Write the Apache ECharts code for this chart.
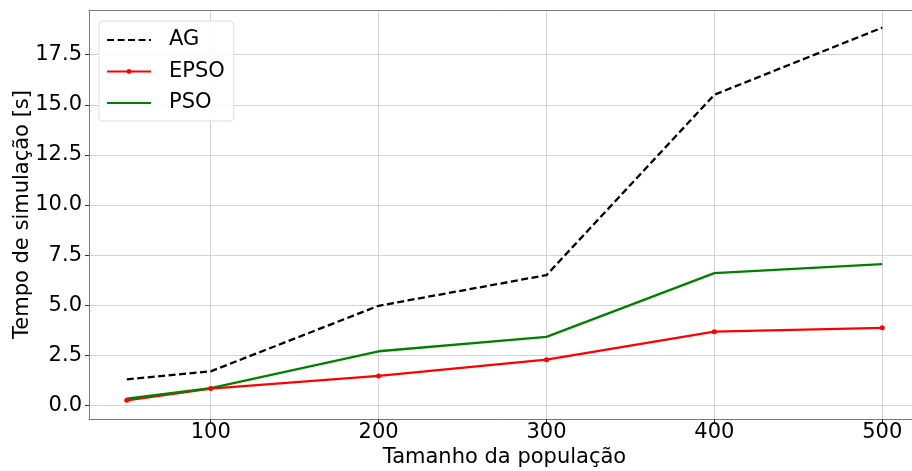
<!DOCTYPE html>
<html>
<head>
<meta charset="utf-8">
<script src="https://cdn.jsdelivr.net/npm/echarts@6/dist/echarts.min.js"></script>
<style>
  html, body { margin: 0; padding: 0; background: #fff; }
  #chart { width: 912px; height: 471px; }
</style>
</head>
<body>
<div id="chart"></div>
<script>
// Population sizes tested
const populacao = [50, 100, 200, 300, 400, 500];
// Simulation time in seconds for each optimiser
const tempoAG = [1.3, 1.7, 4.97, 6.5, 15.5, 18.85];
const tempoEPSO = [0.25, 0.84, 1.47, 2.28, 3.68, 3.87];
const tempoPSO = [0.33, 0.86, 2.7, 3.42, 6.6, 7.05];
// Tick positions
const xTicks = [100, 200, 300, 400, 500];
const yTicks = [0, 2.5, 5, 7.5, 10, 12.5, 15, 17.5];

const pares = vals => populacao.map((p, i) => [p, vals[i]]);
const fonte = 'DejaVu Sans';
const grade = '#d3d3d3';
const borda = '#7a7a7a';
const tam = 21;

const chart = echarts.init(document.getElementById('chart'), null, { renderer: 'canvas' });
chart.setOption({
  animation: false,
  backgroundColor: '#ffffff',
  textStyle: { fontFamily: fonte, color: '#000' },
  grid: {
    left: 89, top: 10, width: 831, height: 409,
    outerBoundsMode: 'none', containLabel: false, show: false
  },
  legend: {
    orient: 'vertical',
    left: 99, top: 21,
    itemWidth: 44, itemHeight: 6, itemGap: 9.5,
    padding: [8, 9, 7, 7],
    backgroundColor: 'rgba(255,255,255,0.85)',
    borderColor: '#dddddd', borderWidth: 1, borderRadius: 4,
    textStyle: { fontFamily: fonte, fontSize: tam, color: '#000', lineHeight: 22, padding: [0, 0, 0, 13] },
    data: [
      { name: 'AG', itemStyle: { color: 'transparent', opacity: 0 } },
      { name: 'EPSO' },
      { name: 'PSO', itemStyle: { color: 'transparent', opacity: 0 } }
    ]
  },
  xAxis: [
    {
      type: 'value',
      min: 27.5, max: 522.5,
      name: 'Tamanho da população',
      nameLocation: 'middle',
      nameGap: 28,
      nameMoveOverlap: false,
      nameTextStyle: { fontFamily: fonte, fontSize: tam, color: '#000', verticalAlign: 'top' },
      axisLine: { show: true, onZero: false, lineStyle: { color: borda, width: 1 } },
      axisTick: { show: true, customValues: xTicks, length: 4, lineStyle: { color: '#333' } },
      axisLabel: { customValues: xTicks, fontFamily: fonte, fontSize: tam, color: '#000', margin: 3 },
      splitLine: { show: true, lineStyle: { color: grade, width: 1 } }
    },
    {
      // top frame line only
      type: 'value', position: 'top',
      min: 27.5, max: 522.5,
      axisLine: { show: true, onZero: false, lineStyle: { color: borda, width: 1 } },
      axisTick: { show: false },
      axisLabel: { show: false },
      splitLine: { show: false }
    }
  ],
  yAxis: {
    type: 'value',
    min: -0.68, max: 19.73,
    name: 'Tempo de simulação [s]',
    nameLocation: 'middle',
    nameGap: 56,
    nameRotate: 90,
    nameMoveOverlap: false,
    nameTextStyle: { fontFamily: fonte, fontSize: tam, color: '#000', verticalAlign: 'bottom' },
    axisLine: { show: true, onZero: false, lineStyle: { color: borda, width: 1 } },
    axisTick: { show: true, customValues: yTicks, length: 4, lineStyle: { color: '#333' } },
    axisLabel: {
      customValues: yTicks, fontFamily: fonte, fontSize: tam, color: '#000', margin: 7,
      formatter: v => v.toFixed(1)
    },
    splitLine: { show: true, lineStyle: { color: grade, width: 1 } }
  },
  series: [
    {
      name: 'AG', type: 'line', data: pares(tempoAG),
      symbol: 'none', color: '#000000',
      lineStyle: { color: '#000000', width: 2.3, type: [7, 3.5] }
    },
    {
      name: 'EPSO', type: 'line', data: pares(tempoEPSO),
      symbol: 'circle', symbolSize: 5, showSymbol: true, color: '#ff0000',
      itemStyle: { color: '#ff0000' },
      lineStyle: { color: '#ff0000', width: 2.3 }
    },
    {
      name: 'PSO', type: 'line', data: pares(tempoPSO),
      symbol: 'none', color: '#008000',
      lineStyle: { color: '#008000', width: 2.3 }
    }
  ]
});
</script>
</body>
</html>
